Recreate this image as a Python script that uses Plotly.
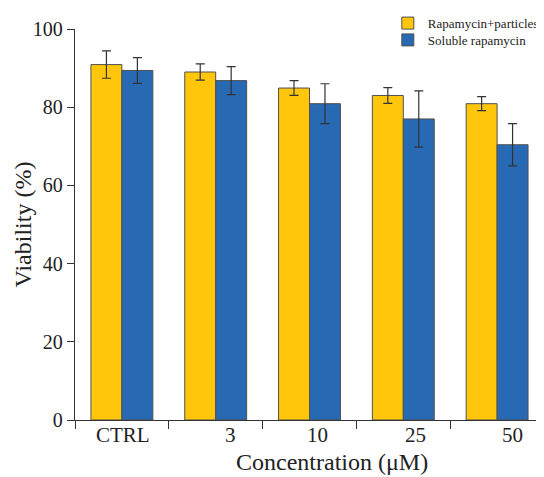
import plotly.graph_objects as go

categories = ["CTRL", "3", "10", "25", "50"]
particles_mean = [90.9, 89.0, 84.9, 83.0, 80.9]
particles_err = [3.5, 2.1, 1.9, 2.0, 1.8]
soluble_mean = [89.4, 86.8, 80.9, 77.0, 70.4]
soluble_err = [3.3, 3.6, 5.1, 7.2, 5.4]
series_names = ["Rapamycin+particles", "Soluble rapamycin"]
y_ticks = [0, 20, 40, 60, 80, 100]

# label placement offsets (layout only)
label_shift = [0.01, 0.16, 0.09, 0.125, 0.16]

FONT = "Liberation Serif"
YELLOW = "#FFC60B"
BLUE = "#2869B4"
EDGE = "#505050"
AX = "#333333"

xpos = list(range(len(categories)))

fig = go.Figure()
fig.add_trace(go.Bar(
    x=xpos, y=particles_mean, name=series_names[0], legend="legend",
    marker=dict(color=YELLOW, line=dict(color=EDGE, width=1)),
    error_y=dict(type="data", array=particles_err, visible=True,
                 color=AX, thickness=1.2, width=4.5),
))
fig.add_trace(go.Bar(
    x=xpos, y=soluble_mean, name=series_names[1], legend="legend2",
    marker=dict(color=BLUE, line=dict(color=EDGE, width=1)),
    error_y=dict(type="data", array=soluble_err, visible=True,
                 color=AX, thickness=1.2, width=4.5),
))

annotations = []
for i, lab in enumerate(categories):
    annotations.append(dict(
        x=i + label_shift[i], y=0, xref="x", yref="paper",
        yanchor="top", xanchor="center", yshift=-1,
        text=lab, showarrow=False,
        font=dict(family=FONT, size=21, color="#222"),
    ))
annotations.append(dict(
    x=0.548, y=-0.108, xref="paper", yref="paper",
    xanchor="center", yanchor="middle",
    text="Concentration (μM)", showarrow=False,
    font=dict(family=FONT, size=24, color="#222"),
))
annotations.append(dict(
    x=-0.111, y=0.5, xref="paper", yref="paper",
    xanchor="center", yanchor="middle", textangle=-90,
    text="Viability (%)", showarrow=False,
    font=dict(family=FONT, size=24, color="#222"),
))

legend_style = dict(
    xanchor="left", yanchor="middle",
    bgcolor="rgba(0,0,0,0)",
    font=dict(family=FONT, size=13, color="#222"),
)

fig.update_layout(
    width=536, height=469,
    margin=dict(l=67, r=0, t=16, b=57),
    paper_bgcolor="white", plot_bgcolor="white",
    barmode="group", bargap=0.34, bargroupgap=0,
    font=dict(family=FONT, color="#222"),
    showlegend=True,
    legend=dict(x=0.667, y=1.015, **legend_style),
    legend2=dict(x=0.667, y=0.972, **legend_style),
    xaxis=dict(
        range=[-0.5, len(categories) - 0.5],
        tickmode="array",
        tickvals=[i - 0.5 for i in range(len(categories) + 1)],
        ticktext=[""] * (len(categories) + 1),
        ticks="outside", ticklen=8, tickwidth=1.3, tickcolor=AX,
        showline=True, linecolor=AX, linewidth=1.3,
        showgrid=False, zeroline=False,
    ),
    yaxis=dict(
        range=[0, 100],
        tickmode="array", tickvals=y_ticks,
        ticks="outside", ticklen=7, tickwidth=1.3, tickcolor=AX,
        showline=True, linecolor=AX, linewidth=1.3,
        showgrid=False, zeroline=False,
        tickfont=dict(family=FONT, size=20, color="#222"),
    ),
    annotations=annotations,
)

fig.write_html("out.html")
